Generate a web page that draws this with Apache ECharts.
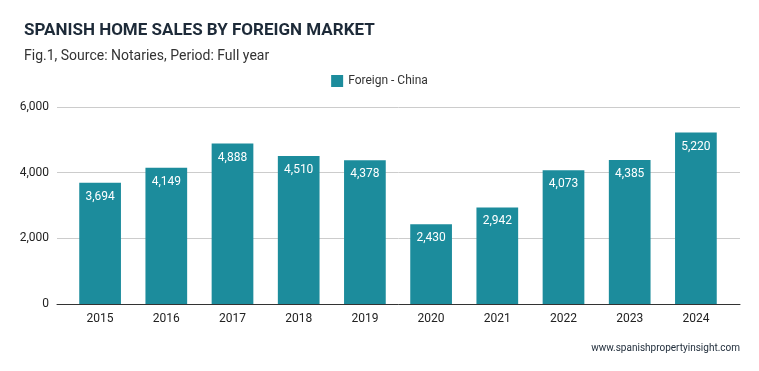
<!DOCTYPE html>
<html><head><meta charset="utf-8">
<script src="https://cdn.jsdelivr.net/npm/echarts@6/dist/echarts.min.js"></script>
<style>html,body{margin:0;padding:0;background:#fff}#c{width:759px;height:371px}</style>
</head><body><div id="c"></div>
<script>
const categories = ['2015','2016','2017','2018','2019','2020','2021','2022','2023','2024'];
const chinaValues = [3694,4149,4888,4510,4378,2430,2942,4073,4385,5220];
const yTicks = [0,2000,4000,6000];
const seriesName = 'Foreign - China';
const fmt = v => Number(v).toLocaleString('en-US');

const chart = echarts.init(document.getElementById('c'), null, {renderer:'canvas'});
chart.setOption({
  animation:false,
  backgroundColor:'#fff',
  title:[
    {text:'SPANISH HOME SALES BY FOREIGN MARKET', left:19, top:17,
     textStyle:{fontFamily:'Roboto', fontSize:17, fontWeight:'bold', color:'#1d2a38'}},
    {text:'Fig.1, Source: Notaries, Period: Full year', left:19, top:44,
     textStyle:{fontFamily:'Roboto', fontSize:14, fontWeight:'normal', color:'#333'}},
    {text:'www.spanishpropertyinsight.com', right:14, top:338,
     textStyle:{fontFamily:'Roboto', fontSize:10, fontWeight:'normal', color:'#1d2a38'}}
  ],
  legend:{data:[seriesName], top:70, left:'center', itemWidth:12, itemHeight:12, itemGap:8,
    icon:'rect', textStyle:{fontFamily:'Roboto', fontSize:12, color:'#333'}},
  grid:[
    {left:57, right:19, top:107, bottom:67, containLabel:false},
    {left:67, right:30, top:107, bottom:67, containLabel:false}
  ],
  xAxis:[
    {gridIndex:0, type:'value', min:0, max:1, show:true,
      axisLine:{show:true, onZero:false, lineStyle:{color:'#333', width:1}},
      axisTick:{show:false}, axisLabel:{show:false}, splitLine:{show:false}},
    {gridIndex:1, type:'category', data:categories,
      axisLine:{show:false}, axisTick:{show:false},
      axisLabel:{fontFamily:'Roboto', fontSize:12, color:'#222', margin:9}}
  ],
  yAxis:[
    {gridIndex:0, type:'value', min:0, max:6000, interval:2000,
      axisLine:{show:false}, axisTick:{show:false},
      splitLine:{lineStyle:{color:'#ccc'}},
      axisLabel:{fontFamily:'Roboto', fontSize:12, color:'#222', margin:8, formatter:fmt}},
    {gridIndex:1, type:'value', min:0, max:6000, interval:2000, show:false,
      splitLine:{show:false}}
  ],
  series:[{name:seriesName, type:'bar', xAxisIndex:1, yAxisIndex:1, data:chinaValues, barWidth:'63%',
    itemStyle:{color:'#1c8c9c'},
    label:{show:true, position:'insideTop', distance:8, color:'#fff',
      fontFamily:'Roboto', fontSize:12, formatter:p=>fmt(p.value)}}]
});
</script></body></html>
